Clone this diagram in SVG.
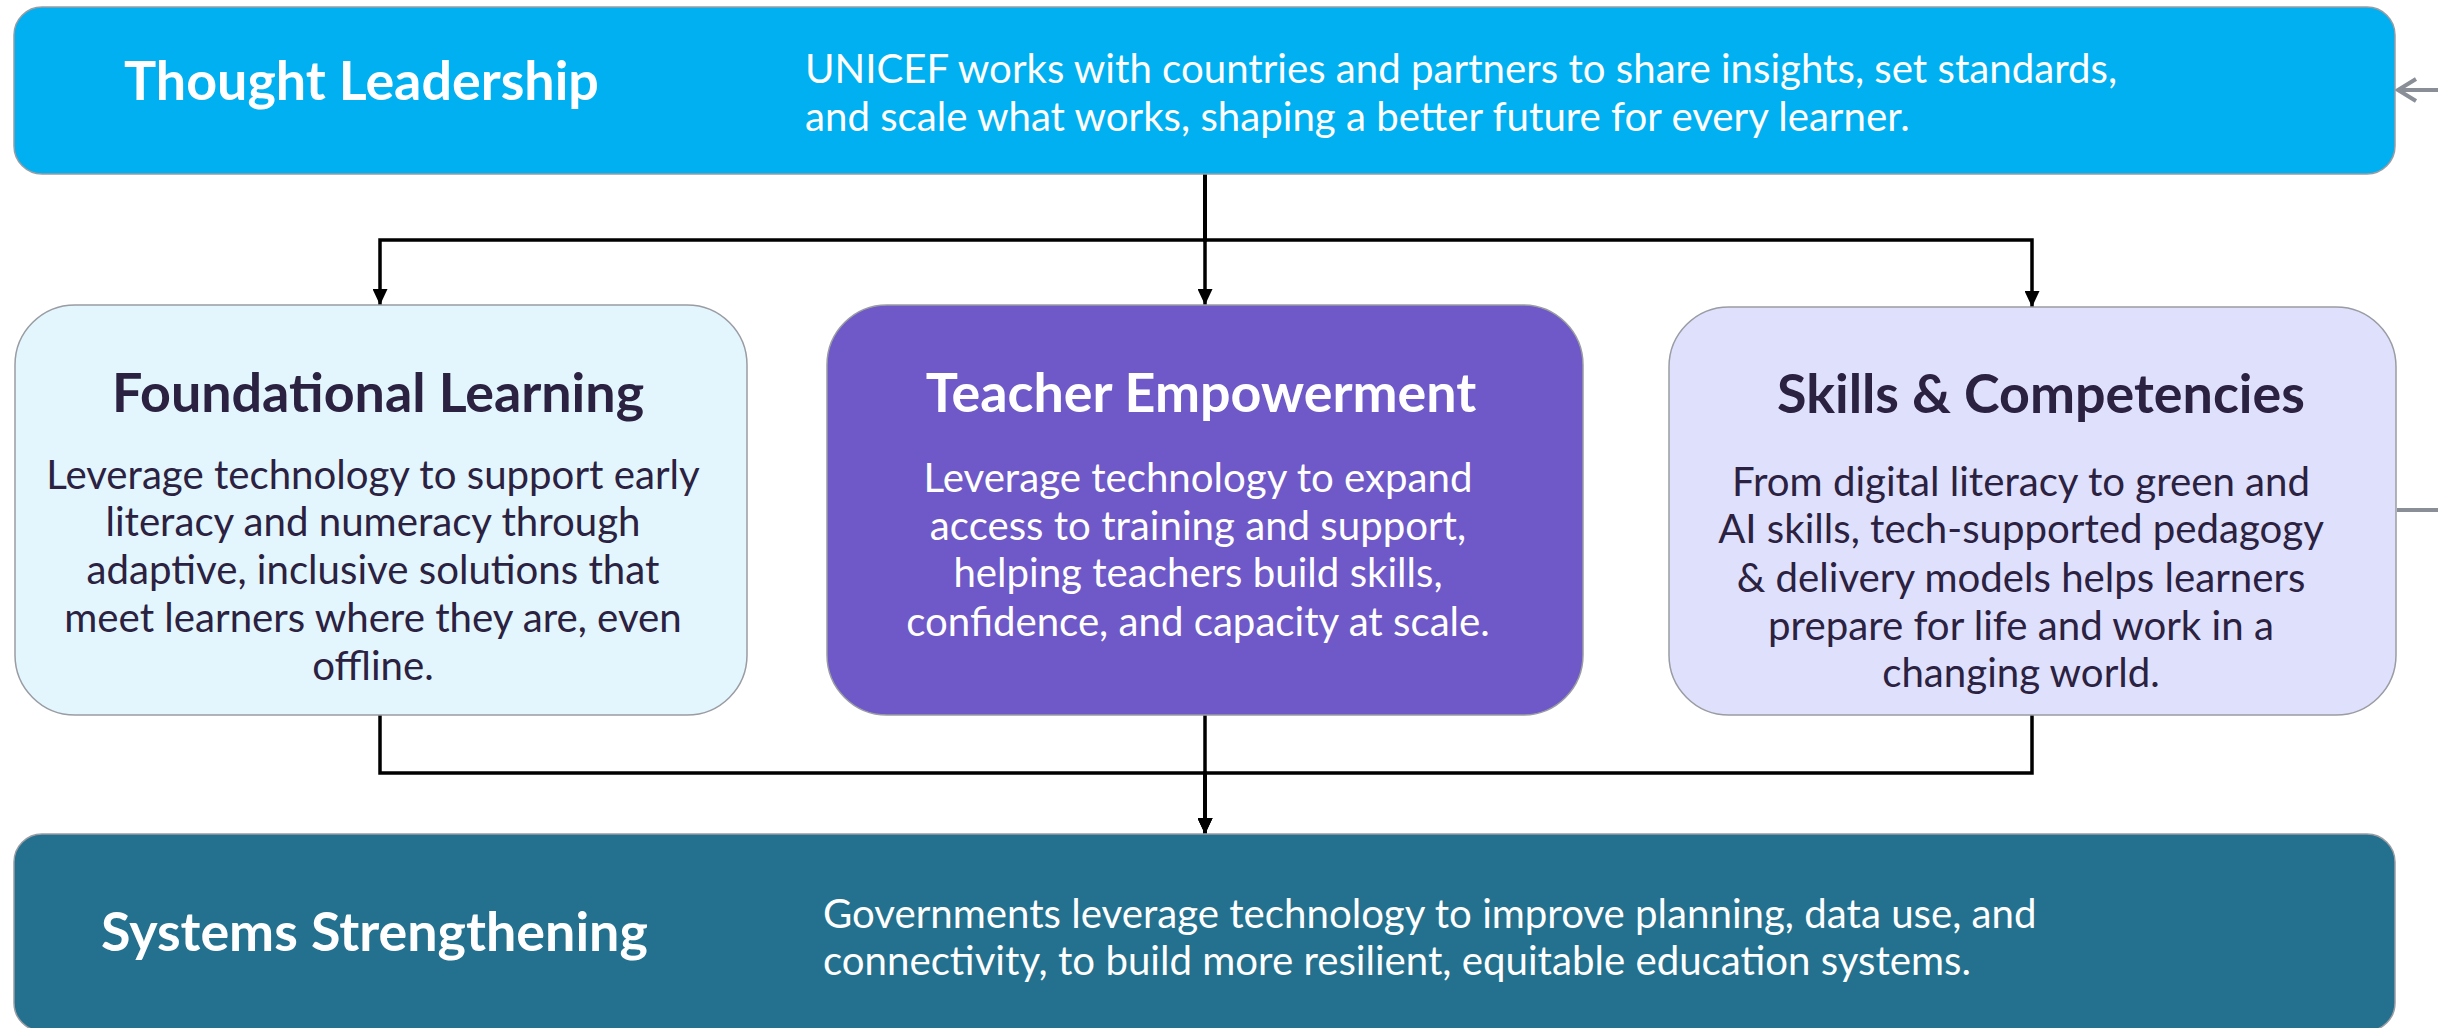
<svg xmlns="http://www.w3.org/2000/svg" width="2438" height="1028" viewBox="0 0 2438 1028">
<style>
  .box { stroke: #9a9ca3; stroke-width: 1.5; }
  .title { font-family: Lato, "Liberation Sans", sans-serif; font-weight: 700; font-size: 53.8px; }
  .body { font-family: Lato, "Liberation Sans", sans-serif; font-weight: 400; font-size: 40.2px; }
  .light { fill: #ffffff; }
  .dark { fill: #2b2140; }
  .conn { fill: none; stroke: #000000; stroke-width: 3.5; }
  .gray { fill: none; stroke: #8a8e96; stroke-width: 4; }
</style>
<defs>
  <marker id="arrow" markerUnits="userSpaceOnUse" markerWidth="16" markerHeight="15" refX="16" refY="7.5" orient="auto">
    <path d="M0,0 L16,7.5 L0,15 z" fill="#000000"/>
  </marker>
</defs>
<rect width="2438" height="1028" fill="#ffffff"/>

<g id="connectors">
  <path class="conn" d="M1205,174 V240" stroke-width="5.5"/>
  <path class="conn" d="M1205,174 V240 H380 V305" marker-end="url(#arrow)"/>
  <path class="conn" d="M1205,174 V305" marker-end="url(#arrow)"/>
  <path class="conn" d="M1205,174 V240 H2032 V307" marker-end="url(#arrow)"/>
  <path class="conn" d="M380,715 V773 H1205 V834" marker-end="url(#arrow)"/>
  <path class="conn" d="M1205,715 V834" marker-end="url(#arrow)"/>
  <path class="conn" d="M2032,715 V773 H1205 V834" marker-end="url(#arrow)"/>
  <path class="gray" d="M2438,90 H2398"/>
  <path class="gray" d="M2416,79 L2398,90 L2416,101"/>
  <path class="gray" d="M2397,510 H2438"/>
</g>

<g id="thought-leadership">
  <rect class="box" x="14" y="7" width="2381" height="167" rx="28" fill="#00b0f0"/>
  <text class="title light" x="124" y="100">Thought Leadership</text>
  <text class="body light" x="805" y="83">UNICEF works with countries and partners to share insights, set standards,</text>
  <text class="body light" x="805" y="130.5">and scale what works, shaping a better future for every learner.</text>
</g>

<g id="foundational-learning">
  <rect class="box" x="15" y="305" width="732" height="410" rx="60" fill="#e3f5fd"/>
  <text class="title dark" x="378" y="411.5" text-anchor="middle">Foundational Learning</text>
  <g class="body dark" text-anchor="middle">
    <text x="373" y="489">Leverage technology to support early</text>
    <text x="373" y="536">literacy and numeracy through</text>
    <text x="373" y="584">adaptive, inclusive solutions that</text>
    <text x="373" y="632">meet learners where they are, even</text>
    <text x="373" y="680">offline.</text>
  </g>
</g>

<g id="teacher-empowerment">
  <rect class="box" x="827" y="305" width="756" height="410" rx="60" fill="#6f58c7"/>
  <text class="title light" x="1201" y="411.5" text-anchor="middle">Teacher Empowerment</text>
  <g class="body light" text-anchor="middle">
    <text x="1198" y="492">Leverage technology to expand</text>
    <text x="1198" y="540">access to training and support,</text>
    <text x="1198" y="587">helping teachers build skills,</text>
    <text x="1198" y="636">confidence, and capacity at scale.</text>
  </g>
</g>

<g id="skills-competencies">
  <rect class="box" x="1669" y="307" width="727" height="408" rx="60" fill="#dfe0fc"/>
  <text class="title dark" x="2041" y="413" text-anchor="middle">Skills &amp; Competencies</text>
  <g class="body dark" text-anchor="middle">
    <text x="2021" y="496">From digital literacy to green and</text>
    <text x="2021" y="543">AI skills, tech-supported pedagogy</text>
    <text x="2021" y="592">&amp; delivery models helps learners</text>
    <text x="2021" y="640">prepare for life and work in a</text>
    <text x="2021" y="687">changing world.</text>
  </g>
</g>

<g id="systems-strengthening">
  <rect class="box" x="14" y="834" width="2381" height="197" rx="28" fill="#23718e"/>
  <text class="title light" x="101" y="951">Systems Strengthening</text>
  <text class="body light" x="823" y="928">Governments leverage technology to improve planning, data use, and</text>
  <text class="body light" x="823" y="975">connectivity, to build more resilient, equitable education systems.</text>
</g>
</svg>
